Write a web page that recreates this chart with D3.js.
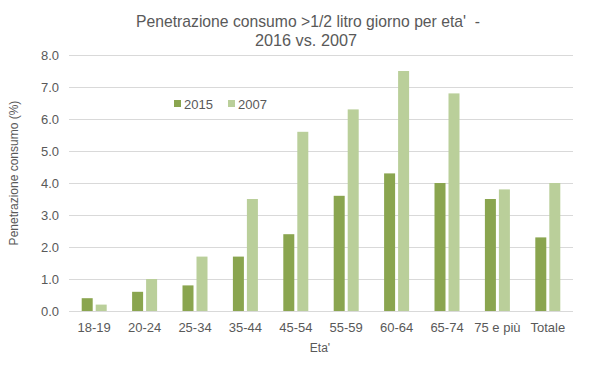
<!DOCTYPE html>
<html><head><meta charset="utf-8">
<script src="https://cdn.jsdelivr.net/npm/d3@7"></script>
<style>body{margin:0;background:#fff;} svg{display:block;}</style>
</head><body>
<svg id="c" width="599" height="378"></svg>
<script>
const categories = ["18-19","20-24","25-34","35-44","45-54","55-59","60-64","65-74","75 e più","Totale"];
const values2015 = [0.4,0.6,0.8,1.7,2.4,3.6,4.3,4.0,3.5,2.3];
const values2007 = [0.2,1.0,1.7,3.5,5.6,6.3,7.5,6.8,3.8,4.0];
const seriesNames = ["2015","2007"];
const yTicks = [0,1,2,3,4,5,6,7,8];
const colors = ["#8aa54f","#bacf9a"];

(function(){
const svg = d3.select("#c");
const mLeft = 69, mRight = 573, mTop = 55, mBottom = 311;
const x = d3.scaleBand().domain(categories).range([mLeft,mRight]);
const y = d3.scaleLinear().domain([0,8]).range([mBottom,mTop]);
const textCol = "#595959";
const font = "'Liberation Sans', Arial, sans-serif";

// gridlines
svg.append("g").selectAll("line").data(yTicks).join("line")
  .attr("x1",mLeft).attr("x2",mRight)
  .attr("y1",d=>y(d)+0.5).attr("y2",d=>y(d)+0.5)
  .attr("stroke","#d9d9d9").attr("stroke-width",1);

// y axis labels
const yAxis = d3.axisLeft(y).tickValues(yTicks).tickFormat(d3.format(".1f")).tickSize(0).tickPadding(10);
const ga = svg.append("g").attr("transform",`translate(${mLeft},0)`).call(yAxis);
ga.select(".domain").remove();
ga.selectAll("text").attr("fill",textCol).style("font-family",font).style("font-size","13px");

// x axis labels
const xAxis = d3.axisBottom(x).tickSize(0).tickPadding(12);
const gx = svg.append("g").attr("transform",`translate(0,${mBottom})`).call(xAxis);
gx.select(".domain").remove();
gx.selectAll("text").attr("fill",textCol).style("font-family",font).style("font-size","13px");

// bars
const barW = 11, gap = 3;
const data = categories.map((c,i)=>({c, v:[values2015[i],values2007[i]]}));
const groups = svg.append("g").selectAll("g").data(data).join("g");
[0,1].forEach(s=>{
  groups.append("rect")
    .attr("x",d=>x(d.c)+x.bandwidth()/2 - (barW*2+gap)/2 + s*(barW+gap))
    .attr("width",barW)
    .attr("y",d=>y(d.v[s]))
    .attr("height",d=>y(0)-y(d.v[s]))
    .attr("fill",colors[s]);
});

// title
const tf = "'Liberation Sans Narrow', 'Liberation Sans', Arial, sans-serif";
svg.append("text").attr("x",136).attr("y",27).attr("fill",textCol)
  .style("font-family",tf).style("font-size","17px").style("white-space","pre")
  .attr("textLength",344).attr("lengthAdjust","spacingAndGlyphs")
  .text("Penetrazione consumo >1/2 litro giorno per eta'  -");
svg.append("text").attr("x",255).attr("y",46).attr("fill",textCol)
  .style("font-family",tf).style("font-size","17px")
  .attr("textLength",102).attr("lengthAdjust","spacingAndGlyphs")
  .text("2016 vs. 2007");

// legend
const lg = svg.append("g");
const legX = [174, 228];
seriesNames.forEach((n,i)=>{
  lg.append("rect").attr("x",legX[i]).attr("y",100).attr("width",7).attr("height",7).attr("fill",colors[i]);
  lg.append("text").attr("x",legX[i]+10).attr("y",109).attr("fill",textCol)
    .style("font-family",font).style("font-size","13px").text(n);
});

// axis titles
svg.append("text").attr("transform","translate(18,173) rotate(-90)").attr("text-anchor","middle")
  .attr("fill",textCol).style("font-family",font).style("font-size","12px").text("Penetrazione consumo (%)");
svg.append("text").attr("x",320).attr("y",352).attr("text-anchor","middle")
  .attr("fill",textCol).style("font-family",font).style("font-size","12px").text("Eta'");
})();
</script>
</body></html>
